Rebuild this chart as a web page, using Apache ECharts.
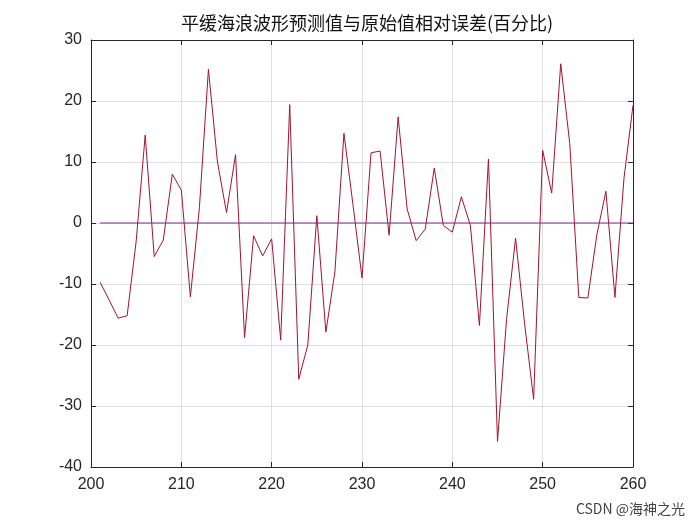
<!DOCTYPE html>
<html>
<head>
<meta charset="utf-8">
<script src="https://cdn.jsdelivr.net/npm/echarts@6/dist/echarts.min.js"></script>
<style>
html,body{margin:0;padding:0;background:#fff;}
#chart{width:700px;height:525px;}
</style>
</head>
<body>
<div id="chart"></div>
<script>
const titleText = '平缓海浪波形预测值与原始值相对误差(百分比)';
const xValues = [201,202,203,204,205,206,207,208,209,210,
                 211,212,213,214,215,216,217,218,219,220,
                 221,222,223,224,225,226,227,228,229,230,
                 231,232,233,234,235,236,237,238,239,240,
                 241,242,243,244,245,246,247,248,249,250,
                 251,252,253,254,255,256,257,258,259,260];
const errorValues = [-9.7,-12.6,-15.6,-15.2,-3.0,14.4,-5.5,-2.8,8.0,5.4,
                     -12.1,2.5,25.2,10.0,1.7,11.2,-18.8,-2.1,-5.4,-2.6,
                     -19.2,19.4,-25.6,-20.0,1.2,-17.9,-8.0,14.7,3.0,-9.0,
                     11.5,11.8,-2.0,17.4,2.3,-2.9,-1.0,9.0,-0.4,-1.5,
                     4.3,-0.4,-16.8,10.5,-35.8,-15.8,-2.5,-16.5,-28.9,11.9,
                     4.9,26.1,13.0,-12.2,-12.3,-1.9,5.2,-12.2,7.3,19.3];
const zeroLineX = [201, 260];
const zeroLineY = [0, 0];
const xTicks = [200,210,220,230,240,250,260];
const yTicks = [-40,-30,-20,-10,0,10,20,30];
const watermark = 'CSDN @海神之光';

const chart = echarts.init(document.getElementById('chart'), null, {renderer:'canvas'});
const axisColor = '#262626';
const labelFont = {color:'#262626', fontSize:16, fontFamily:'Liberation Sans, Arial, sans-serif'};

const errData = xValues.map((x,i)=>[x, errorValues[i]]);
const zeroData = zeroLineX.map((x,i)=>[x, zeroLineY[i]]);

chart.setOption({
  backgroundColor:'#ffffff',
  animation:false,
  title:{
    text:titleText, left:362, top:9, textAlign:'center',
    textStyle:{fontFamily:'Noto Sans CJK SC', fontSize:18, fontWeight:'normal', color:'#111'}
  },
  graphic:[{
    type:'text', right:15, bottom:9,
    style:{text:watermark, fill:'#444', font:'14px "Noto Sans CJK SC", sans-serif'}
  }],
  grid:{left:91, right:67, top:40, bottom:58, containLabel:false},
  xAxis:[{
    type:'value', min:xTicks[0], max:xTicks[xTicks.length-1], interval:10,
    axisLine:{show:true, onZero:false, lineStyle:{color:axisColor, width:1}},
    axisTick:{show:true, inside:true, length:5, lineStyle:{color:axisColor}},
    axisLabel:Object.assign({margin:10}, labelFont),
    splitLine:{show:true, lineStyle:{color:'#dfdfdf', width:1}}
  },{
    type:'value', position:'top', min:xTicks[0], max:xTicks[xTicks.length-1], interval:10,
    axisLine:{show:true, onZero:false, lineStyle:{color:axisColor, width:1}},
    axisTick:{show:true, inside:true, length:5, lineStyle:{color:axisColor}},
    axisLabel:{show:false}, splitLine:{show:false}
  }],
  yAxis:[{
    type:'value', min:yTicks[0], max:yTicks[yTicks.length-1], interval:10,
    axisLine:{show:true, onZero:false, lineStyle:{color:axisColor, width:1}},
    axisTick:{show:true, inside:true, length:5, lineStyle:{color:axisColor}},
    axisLabel:Object.assign({margin:9}, labelFont),
    splitLine:{show:true, lineStyle:{color:'#dfdfdf', width:1}}
  },{
    type:'value', position:'right', min:yTicks[0], max:yTicks[yTicks.length-1], interval:10,
    axisLine:{show:true, onZero:false, lineStyle:{color:axisColor, width:1}},
    axisTick:{show:true, inside:true, length:5, lineStyle:{color:axisColor}},
    axisLabel:{show:false}, splitLine:{show:false}
  }],
  series:[{
    type:'line', data:errData, xAxisIndex:0, yAxisIndex:0,
    showSymbol:false, symbol:'none',
    lineStyle:{color:'#A2142F', width:1}, z:2
  },{
    type:'line', data:zeroData, xAxisIndex:0, yAxisIndex:0,
    showSymbol:false, symbol:'none',
    lineStyle:{color:'#7E2F8E', width:1}, z:3
  }]
});
</script>
</body>
</html>
